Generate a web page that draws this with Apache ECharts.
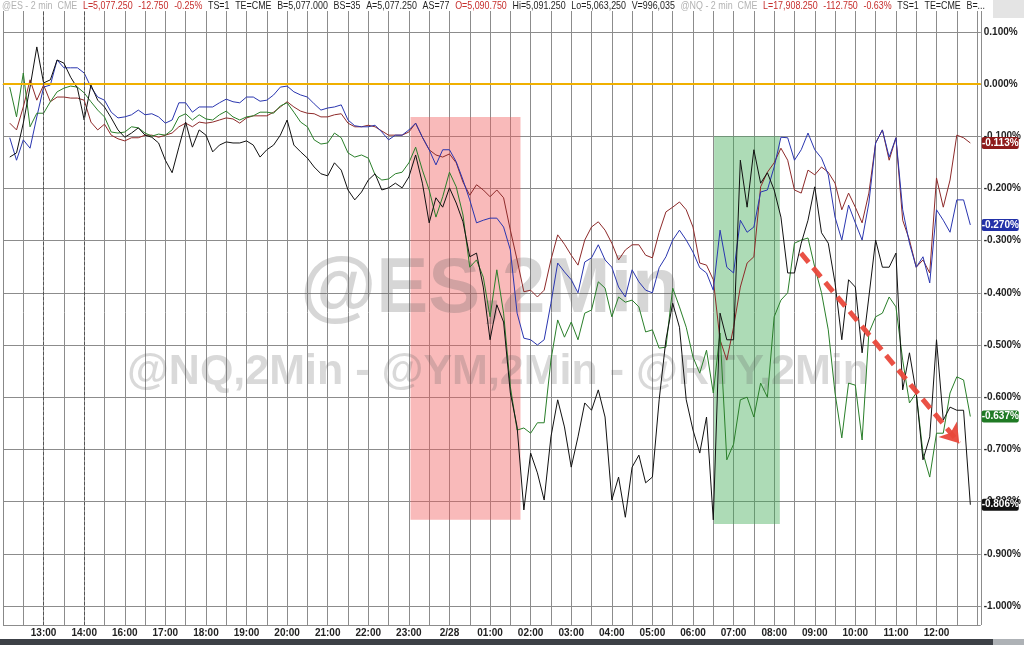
<!DOCTYPE html>
<html><head><meta charset="utf-8">
<script src="https://cdn.jsdelivr.net/npm/echarts@6/dist/echarts.min.js"></script>
<style>html,body{margin:0;padding:0;background:#fff}#c{width:1024px;height:645px}</style>
</head><body><div id="c"></div>
<script>
// Session-hour slots on the x axis: slot 1 = 13:00 ... slot 23 = 12:00 (14:00 -> 16:00 break)
const hourLabels = ['13:00','14:00','16:00','17:00','18:00','19:00','20:00','21:00','22:00','23:00','2/28','01:00','02:00','03:00','04:00','05:00','06:00','07:00','08:00','09:00','10:00','11:00','12:00'];
const STEP = 1/6; // one sample every 10 minutes
const X_MAX = 24.09;

// % change, sampled every 10 minutes from ~12:10
const blackPct = [-0.140,-0.132,-0.075,-0.006,0.071,0.002,0.008,0.046,0.040,0.013,-0.008,-0.069,-0.002,-0.031,-0.044,-0.065,-0.088,-0.102,-0.094,-0.084,-0.098,-0.102,-0.113,-0.146,-0.170,-0.121,-0.073,-0.121,-0.088,-0.098,-0.130,-0.117,-0.111,-0.113,-0.113,-0.109,-0.117,-0.140,-0.126,-0.117,-0.098,-0.069,-0.117,-0.130,-0.142,-0.159,-0.172,-0.176,-0.151,-0.165,-0.203,-0.222,-0.207,-0.184,-0.172,-0.203,-0.199,-0.190,-0.199,-0.178,-0.136,-0.190,-0.266,-0.218,-0.236,-0.199,-0.228,-0.264,-0.331,-0.324,-0.389,-0.490,-0.423,-0.456,-0.592,-0.657,-0.816,-0.707,-0.745,-0.797,-0.676,-0.605,-0.657,-0.734,-0.676,-0.611,-0.625,-0.586,-0.638,-0.797,-0.753,-0.830,-0.734,-0.711,-0.764,-0.753,-0.605,-0.490,-0.420,-0.466,-0.605,-0.663,-0.707,-0.638,-0.835,-0.439,-0.490,-0.490,-0.146,-0.236,-0.126,-0.190,-0.170,-0.203,-0.255,-0.362,-0.362,-0.305,-0.261,-0.197,-0.285,-0.305,-0.381,-0.490,-0.375,-0.389,-0.515,-0.408,-0.299,-0.351,-0.351,-0.324,-0.586,-0.515,-0.592,-0.720,-0.676,-0.490,-0.644,-0.619,-0.625,-0.625,-0.806];
const bluePct = [-0.103,-0.146,-0.107,-0.123,-0.063,-0.006,-0.002,0.046,0.031,0.031,0.031,0.021,-0.006,-0.025,-0.031,-0.054,-0.065,-0.063,-0.059,-0.050,-0.059,-0.057,-0.063,-0.075,-0.069,-0.036,-0.036,-0.054,-0.044,-0.044,-0.044,-0.036,-0.029,-0.034,-0.036,-0.025,-0.025,-0.033,-0.031,-0.021,-0.006,-0.004,-0.015,-0.021,-0.025,-0.038,-0.050,-0.046,-0.044,-0.040,-0.069,-0.080,-0.082,-0.082,-0.079,-0.092,-0.107,-0.098,-0.098,-0.088,-0.075,-0.102,-0.126,-0.155,-0.126,-0.126,-0.149,-0.184,-0.222,-0.266,-0.261,-0.257,-0.257,-0.274,-0.318,-0.439,-0.487,-0.490,-0.500,-0.490,-0.420,-0.343,-0.360,-0.375,-0.400,-0.341,-0.333,-0.308,-0.337,-0.351,-0.389,-0.408,-0.356,-0.379,-0.395,-0.400,-0.352,-0.331,-0.299,-0.280,-0.299,-0.322,-0.352,-0.362,-0.395,-0.280,-0.351,-0.362,-0.261,-0.284,-0.274,-0.207,-0.203,-0.159,-0.102,-0.103,-0.146,-0.126,-0.094,-0.126,-0.142,-0.174,-0.255,-0.299,-0.232,-0.266,-0.299,-0.228,-0.113,-0.088,-0.140,-0.103,-0.241,-0.305,-0.351,-0.331,-0.381,-0.241,-0.261,-0.284,-0.222,-0.222,-0.270];
const redPct = [-0.075,-0.088,-0.044,0.008,-0.031,-0.002,-0.034,-0.025,-0.025,-0.027,-0.027,-0.031,-0.073,-0.088,-0.077,-0.098,-0.105,-0.109,-0.103,-0.103,-0.098,-0.098,-0.102,-0.098,-0.094,-0.082,-0.075,-0.082,-0.073,-0.075,-0.073,-0.069,-0.065,-0.067,-0.075,-0.065,-0.061,-0.061,-0.061,-0.054,-0.044,-0.034,-0.044,-0.052,-0.056,-0.057,-0.063,-0.063,-0.059,-0.057,-0.075,-0.082,-0.082,-0.079,-0.082,-0.090,-0.098,-0.098,-0.098,-0.092,-0.075,-0.102,-0.126,-0.136,-0.140,-0.134,-0.151,-0.188,-0.213,-0.193,-0.203,-0.216,-0.203,-0.218,-0.280,-0.337,-0.398,-0.395,-0.408,-0.395,-0.337,-0.289,-0.307,-0.328,-0.347,-0.299,-0.274,-0.264,-0.280,-0.305,-0.337,-0.318,-0.308,-0.308,-0.328,-0.333,-0.284,-0.245,-0.236,-0.226,-0.241,-0.274,-0.343,-0.347,-0.375,-0.490,-0.529,-0.466,-0.389,-0.343,-0.331,-0.197,-0.169,-0.151,-0.123,-0.146,-0.203,-0.209,-0.165,-0.174,-0.159,-0.169,-0.190,-0.241,-0.209,-0.236,-0.266,-0.209,-0.113,-0.088,-0.146,-0.103,-0.261,-0.299,-0.351,-0.337,-0.362,-0.180,-0.236,-0.184,-0.098,-0.103,-0.113];
const greenPct = [-0.006,-0.063,0.021,-0.082,-0.056,-0.056,-0.034,-0.015,-0.008,-0.004,-0.006,-0.017,-0.034,-0.050,-0.063,-0.092,-0.094,-0.092,-0.082,-0.084,-0.094,-0.100,-0.096,-0.098,-0.088,-0.063,-0.057,-0.069,-0.059,-0.067,-0.069,-0.059,-0.052,-0.063,-0.069,-0.063,-0.061,-0.054,-0.054,-0.056,-0.042,-0.036,-0.054,-0.073,-0.082,-0.107,-0.115,-0.113,-0.094,-0.103,-0.132,-0.140,-0.136,-0.142,-0.174,-0.184,-0.182,-0.172,-0.169,-0.151,-0.121,-0.165,-0.203,-0.255,-0.216,-0.169,-0.197,-0.251,-0.351,-0.337,-0.370,-0.446,-0.356,-0.439,-0.580,-0.663,-0.659,-0.669,-0.649,-0.649,-0.529,-0.452,-0.485,-0.456,-0.490,-0.439,-0.433,-0.379,-0.391,-0.446,-0.408,-0.418,-0.414,-0.427,-0.475,-0.471,-0.506,-0.504,-0.391,-0.427,-0.466,-0.523,-0.554,-0.510,-0.592,-0.477,-0.720,-0.690,-0.605,-0.600,-0.638,-0.573,-0.600,-0.446,-0.414,-0.400,-0.305,-0.299,-0.295,-0.351,-0.400,-0.471,-0.592,-0.678,-0.573,-0.577,-0.682,-0.477,-0.446,-0.439,-0.408,-0.427,-0.529,-0.611,-0.592,-0.707,-0.753,-0.669,-0.669,-0.592,-0.561,-0.567,-0.637];

// annotations, in axis units [slot, %]
const redBand = [[10.04, -0.063], [12.75, -0.835]];
const greenBand = [[17.52, -0.100], [19.14, -0.843]];
const arrowLine = [[19.66, -0.324], [23.56, -0.688]];
const sessionMarks = [1, 2];

const headerItems = [['@ES - 2 min  CME','g'],['L=5,077.250','r'],['-12.750','r'],['-0.25%','r'],['TS=1','k'],['TE=CME','k'],['B=5,077.000','k'],['BS=35','k'],['A=5,077.250','k'],['AS=77','k'],['O=5,090.750','r'],['Hi=5,091.250','k'],['Lo=5,063,250','k'],['V=996,035','k'],['@NQ - 2 min  CME','g'],['L=17,908.250','r'],['-112.750','r'],['-0.63%','r'],['TS=1','k'],['TE=CME','k'],['B=...','k']];
const watermarkMain = '@ES,2Min';
const watermarkSub = '@NQ,2Min - @YM,2Min - @RTY,2Min';

const FONT = '"Liberation Sans", Arial, sans-serif';
const toData = arr => arr.map((v, i) => [(i + 1) * STEP, v]);

const chart = echarts.init(document.getElementById('c'), null, {renderer: 'canvas'});
const lineSeries = (name, arr, color) => ({
  name, type: 'line', data: toData(arr), showSymbol: false, symbol: 'none',
  lineStyle: {color, width: 1}, z: 2, animation: false, silent: true
});

chart.setOption({
  animation: false,
  backgroundColor: '#fff',
  grid: {left: -4, right: 39, top: 0, bottom: 20, containLabel: false},
  xAxis: {
    type: 'value', min: 0, max: X_MAX, interval: 0.5,
    axisLine: {show: true, lineStyle: {color: '#888', width: 1}},
    axisTick: {show: true, length: 5, lineStyle: {color: '#888'}},
    splitLine: {show: true, lineStyle: {color: '#8c8c8c', width: 1}},
    axisLabel: {
      margin: 3, fontSize: 10, fontWeight: 'bold', color: '#222', fontFamily: FONT,
      showMinLabel: true, showMaxLabel: false,
      formatter: v => (Math.abs(v - Math.round(v)) < 1e-6 ? (hourLabels[Math.round(v) - 1] || '') : '')
    }
  },
  yAxis: {
    type: 'value', position: 'right', min: -1.0364, max: 0.1609, splitNumber: 12,
    axisLine: {show: true, lineStyle: {color: '#888'}},
    axisTick: {show: true, length: 3, lineStyle: {color: '#888'}},
    splitLine: {show: true, lineStyle: {color: '#8c8c8c', width: 1}},
    axisLabel: {
      margin: 3, fontSize: 10, fontWeight: 'bold', color: '#222', fontFamily: FONT,
      showMinLabel: false, showMaxLabel: false,
      formatter: v => v.toFixed(3) + '%'
    }
  },
  series: [
    {
      name: 'bands', type: 'line', data: [], z: 1, silent: true,
      markArea: {
        silent: true,
        data: [
          [{coord: redBand[0], itemStyle: {color: 'rgba(240,90,90,0.42)'}}, {coord: redBand[1]}],
          [{coord: greenBand[0], itemStyle: {color: 'rgba(60,170,80,0.42)'}}, {coord: greenBand[1]}]
        ]
      },
      markLine: {
        silent: true, symbol: 'none', label: {show: false}, animation: false,
        data: [
          {yAxis: 0, lineStyle: {color: '#f0b000', width: 2, type: 'solid'}},
          ...sessionMarks.map(s => ({xAxis: s, lineStyle: {color: '#555', width: 1, type: [3, 2]}}))
        ]
      }
    },
    lineSeries('YM', redPct, '#8e2a2a'),
    lineSeries('NQ', bluePct, '#2a36b0'),
    lineSeries('RTY', greenPct, '#2a7f2a'),
    lineSeries('ES', blackPct, '#111111'),
    {
      name: 'arrow', type: 'line', data: [], z: 5, silent: true,
      markLine: {
        silent: true, symbol: ['none', 'arrow'], symbolSize: 18, label: {show: false}, animation: false,
        itemStyle: {color: '#e9483b'},
        lineStyle: {color: '#e9483b', width: 5, type: [12, 7], opacity: 0.95},
        data: [[{coord: arrowLine[0]}, {coord: arrowLine[1]}]]
      }
    }
  ]
});

// header strip
const HEAD_FONT = '11px ' + FONT;
const cv = document.createElement('canvas').getContext('2d');
cv.font = HEAD_FONT;
const GAP = 7;
const widths = headerItems.map(([t]) => cv.measureText(t).width);
const total = widths.reduce((a, b) => a + b, 0) + GAP * (headerItems.length - 1);
const sx = 983 / total;
const headColors = {g: '#b3b3b3', r: '#c62e2c', k: '#1e1e1e'};
let cum = 0;
const headerEls = headerItems.map(([t, c], i) => {
  const el = {type: 'text', x: 2 + cum * sx, y: 5.5, scaleX: sx, z: 21,
    style: {text: t, fill: headColors[c], font: HEAD_FONT, textAlign: 'left', textVerticalAlign: 'middle', align: 'left', verticalAlign: 'middle'}};
  cum += widths[i] + GAP;
  return el;
});

// last-value tags on the right axis
const tags = [[redPct, '#8e1b1b'], [bluePct, '#2231a8'], [greenPct, '#1f7a24'], [blackPct, '#111111']].map(([arr, col]) => {
  const v = arr[arr.length - 1];
  const p = chart.convertToPixel({xAxisIndex: 0, yAxisIndex: 0}, [X_MAX, v]);
  return {type: 'group', x: p[0] + 1, y: p[1], z: 20, children: [
    {type: 'rect', z: 20, shape: {x: 0, y: -6, width: 37, height: 12, r: 2}, style: {fill: col}},
    {type: 'text', z: 21, x: 18.5, y: 0, style: {text: v.toFixed(3) + '%', fill: '#fff', font: 'bold 10px ' + FONT, textAlign: 'center', textVerticalAlign: 'middle', align: 'center', verticalAlign: 'middle'}}
  ]};
});

chart.setOption({
  graphic: [
    {type: 'text', x: 490, y: 290, z: 1, silent: true, style: {text: watermarkMain, fill: 'rgba(90,90,90,0.25)', font: 'bold 78px ' + FONT, textAlign: 'center', textVerticalAlign: 'middle', align: 'center', verticalAlign: 'middle'}},
    {type: 'text', x: 498, y: 372, z: 1, silent: true, style: {text: watermarkSub, fill: 'rgba(90,90,90,0.23)', font: 'bold 43px ' + FONT, textAlign: 'center', textVerticalAlign: 'middle', align: 'center', verticalAlign: 'middle'}},
    {type: 'rect', z: 20, shape: {x: 0, y: 0, width: 1024, height: 11}, style: {fill: '#fff'}},
    {type: 'rect', z: 20, shape: {x: 993, y: 0, width: 31, height: 18}, style: {fill: '#e4e4e4'}},
    {type: 'rect', z: 20, shape: {x: 0, y: 639, width: 993, height: 6}, style: {fill: '#3c4046'}},
    {type: 'rect', z: 20, shape: {x: 993, y: 639, width: 31, height: 6}, style: {fill: '#aeb2b6'}},
    ...headerEls,
    ...tags
  ]
});
</script>
</body></html>
